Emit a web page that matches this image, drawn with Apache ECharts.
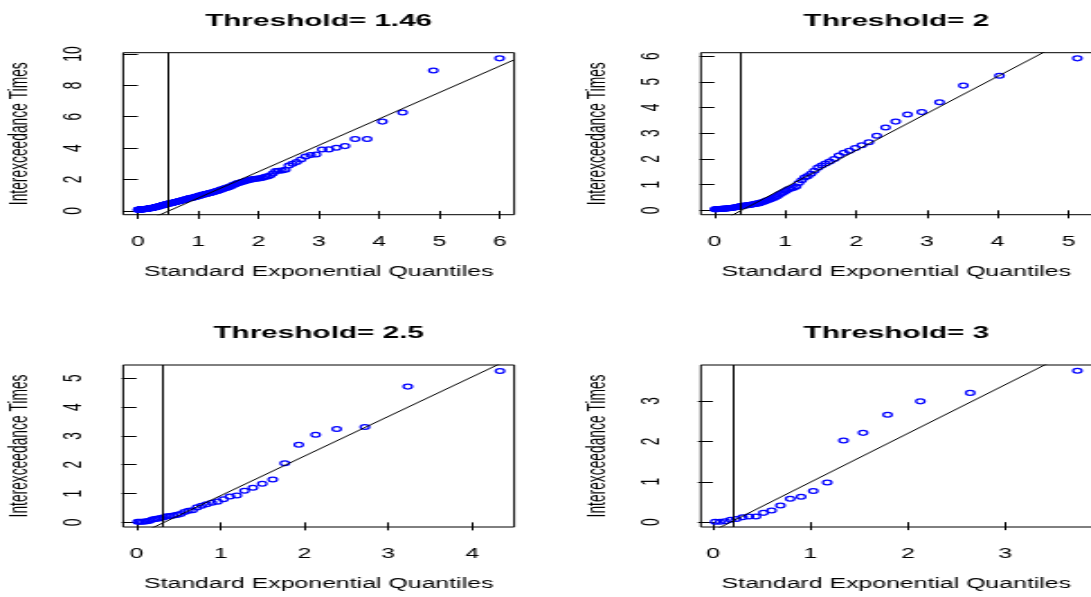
<!DOCTYPE html>
<html>
<head>
<meta charset="utf-8">
<script src="https://cdn.jsdelivr.net/npm/echarts@6/dist/echarts.min.js"></script>
<style>
  html, body { margin: 0; padding: 0; background: #fff; overflow: hidden; }
  #wrap { width: 1091px; height: 597px; overflow: hidden; position: relative; background: #fff; }
  /* the figure is laid out on a narrow device and widened horizontally */
  #chart { position: absolute; left: 0; top: 0; width: 606px; height: 597px;
           transform: scaleX(1.8003); transform-origin: 0 0; }
</style>
</head>
<body>
<div id="wrap"><div id="chart"></div></div>
<script>
// ---- data: interexceedance times vs standard exponential quantiles ----
const titles = ['Threshold= 1.46', 'Threshold= 2', 'Threshold= 2.5', 'Threshold= 3'];

const xTicks1 = [0, 1, 2, 3, 4, 5, 6];
const yTicks1 = [0, 2, 4, 6, 8, 10];
const xTicks2 = [0, 1, 2, 3, 4, 5];
const yTicks2 = [0, 1, 2, 3, 4, 5, 6];
const xTicks3 = [0, 1, 2, 3, 4];
const yTicks3 = [0, 1, 2, 3, 4, 5];
const xTicks4 = [0, 1, 2, 3];
const yTicks4 = [0, 1, 2, 3];

// threshold 1.46
const quant1 = [
  0.003,0.008,0.013,0.018,0.023,0.028,0.033,0.038,0.043,0.048,
  0.053,0.059,0.064,0.069,0.075,0.080,0.085,0.091,0.096,0.102,
  0.107,0.113,0.118,0.124,0.130,0.135,0.141,0.147,0.152,0.158,
  0.164,0.170,0.176,0.182,0.188,0.194,0.200,0.206,0.212,0.218,
  0.224,0.230,0.237,0.243,0.249,0.256,0.262,0.269,0.275,0.281,
  0.288,0.295,0.301,0.308,0.315,0.322,0.329,0.336,0.342,0.349,
  0.356,0.363,0.371,0.378,0.385,0.393,0.400,0.407,0.415,0.422,
  0.429,0.437,0.445,0.453,0.461,0.469,0.477,0.485,0.492,0.500,
  0.508,0.517,0.526,0.534,0.543,0.551,0.560,0.569,0.577,0.586,
  0.594,0.604,0.613,0.622,0.632,0.641,0.651,0.660,0.669,0.679,
  0.688,0.698,0.709,0.719,0.730,0.740,0.750,0.761,0.771,0.782,
  0.792,0.804,0.815,0.827,0.838,0.850,0.862,0.873,0.885,0.896,
  0.908,0.921,0.934,0.947,0.960,0.973,0.986,0.999,1.012,1.025,
  1.039,1.054,1.069,1.084,1.099,1.114,1.129,1.144,1.159,1.174,
  1.189,1.207,1.225,1.242,1.260,1.278,1.296,1.313,1.331,1.348,
  1.367,1.386,1.406,1.427,1.448,1.469,1.491,1.513,1.536,1.559,
  1.583,1.607,1.632,1.658,1.684,1.711,1.739,1.767,1.797,1.827,
  1.858,1.891,1.924,1.958,1.994,2.031,2.070,2.110,2.151,2.195,
  2.240,2.288,2.338,2.391,2.446,2.505,2.567,2.634,2.706,2.783,
  2.866,2.957,3.057,3.168,3.293,3.437,3.604,3.804,4.056,4.392,
  4.903,6.001
];
const times1 = [
  0.08,0.08,0.08,0.09,0.09,0.09,0.09,0.09,0.10,0.10,
  0.10,0.10,0.10,0.10,0.10,0.10,0.11,0.11,0.11,0.11,
  0.11,0.11,0.12,0.12,0.12,0.13,0.13,0.13,0.14,0.14,
  0.14,0.15,0.15,0.15,0.16,0.16,0.17,0.17,0.18,0.18,
  0.18,0.19,0.19,0.20,0.20,0.21,0.21,0.22,0.22,0.23,
  0.23,0.24,0.25,0.25,0.26,0.27,0.27,0.28,0.29,0.30,
  0.30,0.31,0.32,0.33,0.33,0.34,0.35,0.36,0.37,0.38,
  0.39,0.40,0.40,0.41,0.42,0.43,0.43,0.44,0.45,0.45,
  0.46,0.47,0.48,0.48,0.49,0.50,0.51,0.52,0.52,0.53,
  0.54,0.55,0.55,0.56,0.57,0.58,0.59,0.60,0.61,0.62,
  0.63,0.64,0.65,0.66,0.67,0.68,0.69,0.70,0.71,0.73,
  0.74,0.75,0.77,0.78,0.79,0.80,0.81,0.82,0.83,0.84,
  0.85,0.86,0.87,0.88,0.90,0.91,0.93,0.94,0.96,0.97,
  0.99,1.01,1.02,1.04,1.05,1.07,1.08,1.10,1.11,1.12,
  1.14,1.15,1.17,1.19,1.21,1.23,1.25,1.27,1.29,1.32,
  1.34,1.37,1.40,1.43,1.45,1.47,1.50,1.53,1.56,1.60,
  1.66,1.69,1.73,1.77,1.80,1.83,1.86,1.89,1.92,1.95,
  1.98,2.01,2.03,2.05,2.06,2.08,2.12,2.17,2.20,2.26,
  2.38,2.55,2.56,2.58,2.62,2.90,3.00,3.12,3.28,3.47,
  3.56,3.60,3.91,3.92,4.02,4.13,4.58,4.58,5.69,6.27,
  8.94,9.72
];

// threshold 2
const quant2 = [
  0.006,0.018,0.030,0.043,0.055,0.068,0.081,0.094,0.107,0.120,
  0.134,0.147,0.161,0.175,0.190,0.204,0.219,0.234,0.249,0.264,
  0.280,0.296,0.312,0.328,0.345,0.362,0.379,0.397,0.414,0.433,
  0.451,0.470,0.489,0.509,0.529,0.549,0.570,0.591,0.613,0.635,
  0.658,0.681,0.705,0.730,0.755,0.780,0.807,0.834,0.861,0.890,
  0.919,0.950,0.981,1.013,1.046,1.081,1.117,1.154,1.192,1.232,
  1.274,1.317,1.363,1.411,1.461,1.513,1.569,1.627,1.690,1.757,
  1.828,1.905,1.988,2.079,2.180,2.291,2.416,2.559,2.726,2.927,
  3.178,3.515,4.025,5.124
];
const times2 = [
  0.04,0.04,0.04,0.05,0.05,0.05,0.05,0.06,0.06,0.06,
  0.06,0.07,0.07,0.07,0.08,0.08,0.09,0.09,0.10,0.10,
  0.11,0.12,0.13,0.14,0.15,0.16,0.17,0.18,0.18,0.19,
  0.20,0.20,0.21,0.22,0.23,0.24,0.25,0.26,0.27,0.28,
  0.30,0.32,0.34,0.37,0.40,0.42,0.45,0.48,0.52,0.56,
  0.62,0.66,0.71,0.76,0.82,0.85,0.88,0.93,1.06,1.17,
  1.28,1.33,1.42,1.54,1.66,1.74,1.82,1.90,2.00,2.13,
  2.24,2.32,2.42,2.53,2.65,2.90,3.22,3.45,3.73,3.82,
  4.20,4.85,5.23,5.91
];

// threshold 2.5
const quant3 = [
  0.013,0.040,0.068,0.097,0.126,0.156,0.188,0.220,0.253,0.288,
  0.323,0.361,0.399,0.439,0.481,0.524,0.570,0.617,0.667,0.720,
  0.775,0.834,0.897,0.964,1.035,1.112,1.195,1.286,1.386,1.498,
  1.623,1.766,1.933,2.134,2.385,2.721,3.232,4.331
];
const times3 = [
  0.02,0.02,0.02,0.03,0.04,0.06,0.10,0.12,0.13,0.15,
  0.18,0.21,0.22,0.24,0.26,0.29,0.36,0.40,0.42,0.52,
  0.58,0.63,0.68,0.72,0.80,0.90,0.93,1.10,1.20,1.34,
  1.49,2.05,2.69,3.04,3.24,3.31,4.71,5.25
];

// threshold 3
const quant4 = [
  0.024,0.074,0.127,0.182,0.241,0.304,0.370,0.442,0.519,0.602,
  0.693,0.793,0.905,1.030,1.173,1.340,1.540,1.792,2.128,2.639,
  3.738
];
const times4 = [
  0.01,0.01,0.02,0.06,0.08,0.12,0.14,0.14,0.23,0.29,
  0.41,0.58,0.63,0.77,0.98,2.02,2.21,2.66,2.99,3.20,
  3.75
];

// fitted reference line (intercept, slope) and vertical marker per panel
const refIntercept = [-0.86, -0.55, -0.45, -0.219];
const refSlope     = [1.68, 1.44, 1.375, 1.208];
const markerQuant  = [0.51, 0.367, 0.31, 0.195];

// ---- layout (device units before horizontal widening) ----
const FONT = '"Liberation Sans", Arial, Helvetica, sans-serif';
const colLeft = [68.4, 389.3];
const rowTop = [52.7, 365];
const plotW = 217.2, plotH = 162;
const panels = [
  { xs: quant1, ys: times1, xt: xTicks1, yt: yTicks1, xr: [-0.244, 6.243], yr: [-0.24, 10.08], col: 0, row: 0 },
  { xs: quant2, ys: times2, xt: xTicks2, yt: yTicks2, xr: [-0.192, 5.33],  yr: [-0.17, 6.13],  col: 1, row: 0 },
  { xs: quant3, ys: times3, xt: xTicks3, yt: yTicks3, xr: [-0.16, 4.50],   yr: [-0.16, 5.46],  col: 0, row: 1 },
  { xs: quant4, ys: times4, xt: xTicks4, yt: yTicks4, xr: [-0.123, 3.887], yr: [-0.12, 3.89],  col: 1, row: 1 }
];

const axisText = { color: '#000', fontSize: 13.8, fontFamily: FONT };

const option = {
  animation: false,
  backgroundColor: '#fff',
  title: panels.map((p, k) => ({
    text: titles[k],
    left: colLeft[p.col] + plotW / 2,
    top: rowTop[p.row] - 41.5,
    textAlign: 'center',
    padding: 0,
    textStyle: { color: '#000', fontSize: 16.5, fontWeight: 'bold', fontFamily: FONT, lineHeight: 20 }
  })),
  grid: panels.map(p => ({
    left: colLeft[p.col], top: rowTop[p.row], width: plotW, height: plotH,
    show: true, borderColor: '#000', borderWidth: 1, backgroundColor: 'transparent',
    containLabel: false, outerBoundsMode: 'none'
  })),
  xAxis: panels.map((p, k) => ({
    gridIndex: k, type: 'value', min: p.xr[0], max: p.xr[1],
    axisLine: { show: false },
    splitLine: { show: false },
    axisTick: { show: true, inside: false, length: 8, customValues: p.xt, lineStyle: { color: '#000', width: 1 } },
    axisLabel: Object.assign({ customValues: p.xt, margin: 20 }, axisText),
    name: 'Standard Exponential Quantiles',
    nameLocation: 'middle', nameGap: 50,
    nameTextStyle: axisText
  })),
  yAxis: panels.map((p, k) => ({
    gridIndex: k, type: 'value', min: p.yr[0], max: p.yr[1],
    axisLine: { show: false },
    splitLine: { show: false },
    axisTick: { show: true, inside: false, length: 8.3, customValues: p.yt, lineStyle: { color: '#000', width: 1 } },
    axisLabel: Object.assign({ customValues: p.yt, margin: 20, rotate: 90, align: 'center', verticalAlign: 'bottom' }, axisText),
    name: 'Interexceedance Times',
    nameLocation: 'middle', nameGap: 50, nameRotate: 90,
    nameTextStyle: axisText
  })),
  series: []
};

panels.forEach((p, k) => {
  option.series.push({
    type: 'scatter', xAxisIndex: k, yAxisIndex: k,
    data: p.xs.map((x, i) => [x, p.ys[i]]),
    symbol: 'circle', symbolSize: 4.8,
    itemStyle: { color: 'rgba(0,0,0,0)', borderColor: '#0000ff', borderWidth: 1.25, opacity: 1 },
    emphasis: { disabled: true }, silent: true, z: 2
  });
  const x0 = p.xr[0], x1 = p.xr[1];
  option.series.push({
    type: 'line', xAxisIndex: k, yAxisIndex: k,
    data: [[x0, refIntercept[k] + refSlope[k] * x0], [x1, refIntercept[k] + refSlope[k] * x1]],
    symbol: 'none', showSymbol: false, clip: true,
    lineStyle: { color: '#000', width: 1 },
    emphasis: { disabled: true }, silent: true, z: 3,
    markLine: {
      silent: true, symbol: ['none', 'none'], animation: false,
      label: { show: false },
      lineStyle: { color: '#000', width: 1, type: 'solid' },
      emphasis: { disabled: true },
      data: [{ xAxis: markerQuant[k] }]
    }
  });
});

const chart = echarts.init(document.getElementById('chart'), null, { renderer: 'canvas', width: 606, height: 597 });
chart.setOption(option);
</script>
</body>
</html>
